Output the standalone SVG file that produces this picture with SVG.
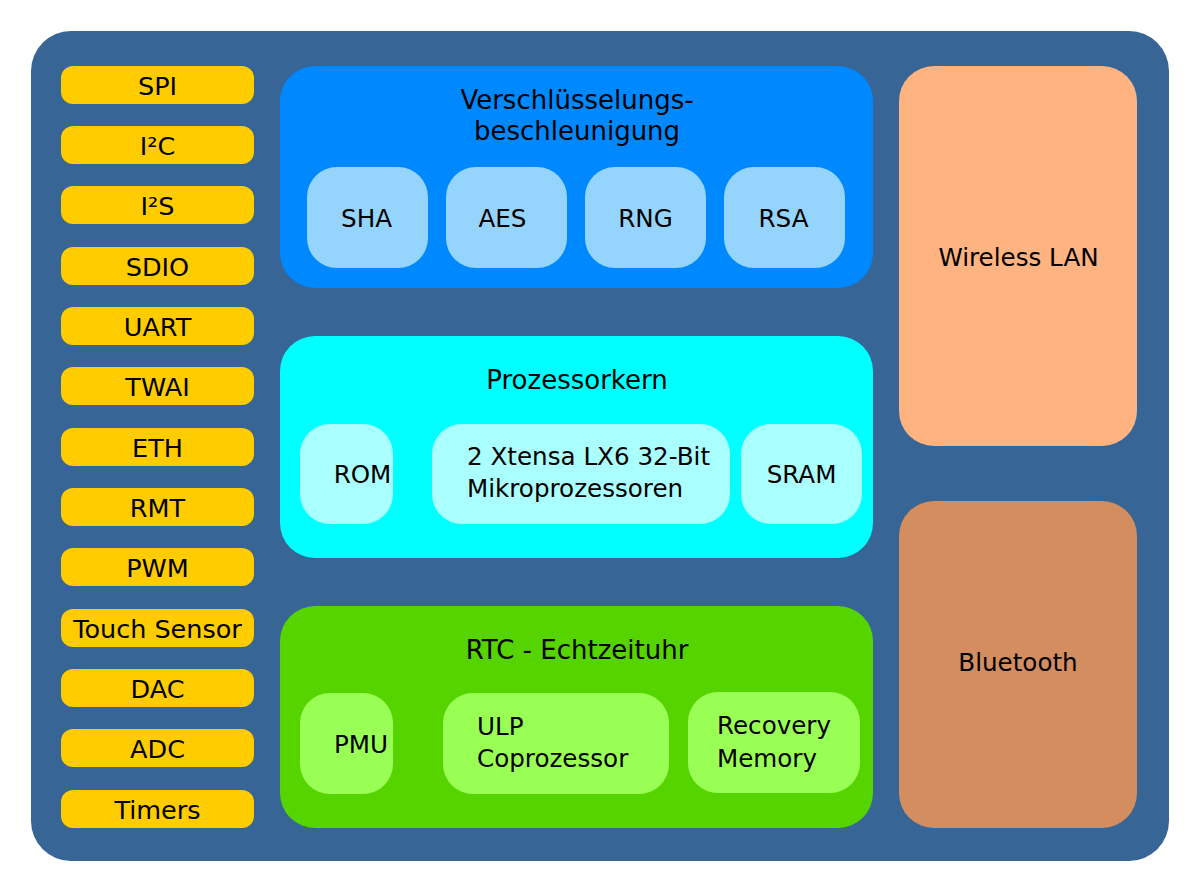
<svg xmlns="http://www.w3.org/2000/svg" width="1200" height="892" viewBox="0 0 1200 892">
<style>
.bus rect{fill:#ffcc00}
.bus text{font-family:"DejaVu Sans","Liberation Sans",sans-serif;font-size:25.5px;fill:#000;text-anchor:middle}
.title{font-family:"DejaVu Sans","Liberation Sans",sans-serif;font-size:26px;fill:#000;text-anchor:middle}
.in{font-family:"DejaVu Sans","Liberation Sans",sans-serif;font-size:24.6px;fill:#000}
.c{text-anchor:middle}
</style>
<rect x="31" y="31" width="1138" height="830" rx="40" fill="#366596"/>
<g id="spi" class="bus"><rect x="61" y="66" width="193" height="38" rx="12"/><text x="157.5" y="94.5">SPI</text></g>
<g id="i2c" class="bus"><rect x="61" y="126" width="193" height="38" rx="12"/><text x="157.5" y="154.5">I²C</text></g>
<g id="i2s" class="bus"><rect x="61" y="186" width="193" height="38" rx="12"/><text x="157.5" y="214.5">I²S</text></g>
<g id="sdio" class="bus"><rect x="61" y="247" width="193" height="38" rx="12"/><text x="157.5" y="275.5">SDIO</text></g>
<g id="uart" class="bus"><rect x="61" y="307" width="193" height="38" rx="12"/><text x="157.5" y="335.5">UART</text></g>
<g id="twai" class="bus"><rect x="61" y="367" width="193" height="38" rx="12"/><text x="157.5" y="395.5">TWAI</text></g>
<g id="eth" class="bus"><rect x="61" y="428" width="193" height="38" rx="12"/><text x="157.5" y="456.5">ETH</text></g>
<g id="rmt" class="bus"><rect x="61" y="488" width="193" height="38" rx="12"/><text x="157.5" y="516.5">RMT</text></g>
<g id="pwm" class="bus"><rect x="61" y="548" width="193" height="38" rx="12"/><text x="157.5" y="576.5">PWM</text></g>
<g id="touch" class="bus"><rect x="61" y="609" width="193" height="38" rx="12"/><text x="157.5" y="637.5">Touch Sensor</text></g>
<g id="dac" class="bus"><rect x="61" y="669" width="193" height="38" rx="12"/><text x="157.5" y="697.5">DAC</text></g>
<g id="adc" class="bus"><rect x="61" y="729" width="193" height="38" rx="12"/><text x="157.5" y="757.5">ADC</text></g>
<g id="timers" class="bus"><rect x="61" y="790" width="193" height="38" rx="12"/><text x="157.5" y="818.5">Timers</text></g>

<g id="crypto">
<rect x="280" y="66" width="593" height="222" rx="35" fill="#0088ff"/>
<text class="title" x="577" y="108.5">Verschlüsselungs-</text>
<text class="title" x="577" y="140">beschleunigung</text>
</g>
<g id="sha"><rect x="307" y="167" width="121" height="101" rx="30" fill="#95d5fd"/><text class="in c" x="366.5" y="226.5">SHA</text></g>
<g id="aes"><rect x="446" y="167" width="121" height="101" rx="30" fill="#95d5fd"/><text class="in c" x="502.5" y="226.5">AES</text></g>
<g id="rng"><rect x="585" y="167" width="121" height="101" rx="30" fill="#95d5fd"/><text class="in c" x="645.5" y="226.5">RNG</text></g>
<g id="rsa"><rect x="724" y="167" width="121" height="101" rx="30" fill="#95d5fd"/><text class="in c" x="783.5" y="226.5">RSA</text></g>

<g id="cpu">
<rect x="280" y="336" width="593" height="222" rx="35" fill="#00ffff"/>
<text class="title" x="577" y="389">Prozessorkern</text>
</g>
<g id="rom"><rect x="300" y="424" width="93" height="100" rx="30" fill="#aaffff"/><text class="in c" x="362.5" y="482.5">ROM</text></g>
<g id="xtensa"><rect x="432" y="424" width="298" height="100" rx="30" fill="#aaffff"/><text class="in" x="467" y="464.5">2 Xtensa LX6 32-Bit</text><text class="in" x="467" y="497">Mikroprozessoren</text></g>
<g id="sram"><rect x="741" y="424" width="121" height="100" rx="30" fill="#aaffff"/><text class="in c" x="801.5" y="482.5">SRAM</text></g>

<g id="rtc">
<rect x="280" y="606" width="593" height="222" rx="35" fill="#55d400"/>
<text class="title" x="577" y="659">RTC - Echtzeituhr</text>
</g>
<g id="pmu"><rect x="300" y="693" width="93" height="101" rx="30" fill="#99ff55"/><text class="in c" x="361" y="753">PMU</text></g>
<g id="ulp"><rect x="443" y="693" width="226" height="101" rx="30" fill="#99ff55"/><text class="in" x="477" y="734.5">ULP</text><text class="in" x="477" y="767">Coprozessor</text></g>
<g id="recovery"><rect x="688" y="692" width="172" height="101" rx="30" fill="#99ff55"/><text class="in" x="717" y="734">Recovery</text><text class="in" x="717" y="767">Memory</text></g>

<g id="wlan"><rect x="899" y="66" width="238" height="380" rx="35" fill="#ffb380"/><text class="in c" x="1018.5" y="266">Wireless LAN</text></g>
<g id="bt"><rect x="899" y="501" width="238" height="327" rx="35" fill="#d38d5f"/><text class="in c" x="1018" y="671">Bluetooth</text></g>
<g id="connectors"/>
</svg>
